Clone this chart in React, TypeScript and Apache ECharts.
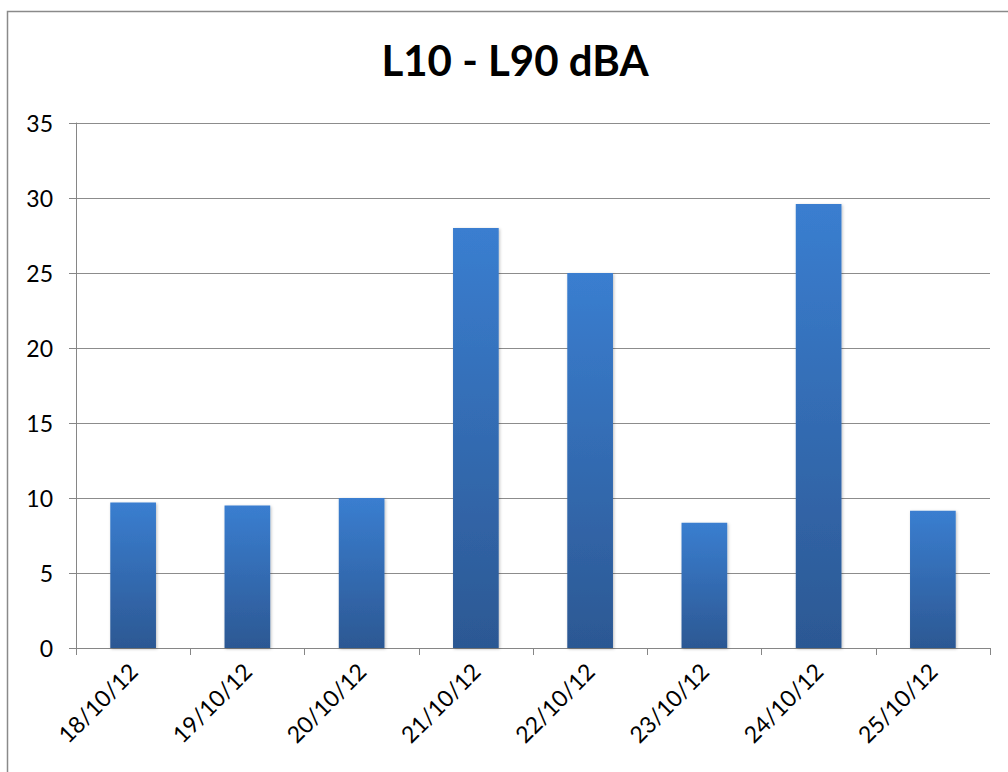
import React, { useEffect, useRef } from "react";
import * as echarts from "echarts";

const categories = ["18/10/12", "19/10/12", "20/10/12", "21/10/12", "22/10/12", "23/10/12", "24/10/12", "25/10/12"];
const values = [9.7, 9.5, 10.0, 28.0, 25.0, 8.35, 29.6, 9.15];
const titleText = "L10 - L90 dBA";

export default function App() {
  const ref = useRef<HTMLDivElement>(null);
  useEffect(() => {
    const chart = echarts.init(ref.current!, null, { renderer: "svg" });
    chart.setOption({
      animation: false,
      backgroundColor: "#ffffff",
      title: {
        text: titleText,
        left: 510,
        textAlign: "center",
        top: 34,
        textStyle: { fontFamily: "Lato", fontWeight: "bold", fontSize: 42, color: "#000" },
      },
      graphic: [
        {
          type: "rect",
          shape: { x: 7.5, y: 11.5, width: 1100, height: 900 },
          style: { fill: "none", stroke: "#8a8a8a", lineWidth: 1.5 },
          silent: true,
        },
      ],
      grid: { left: 76, right: 18, top: 123, bottom: 124 },
      xAxis: {
        type: "category",
        data: categories,
        axisLine: { lineStyle: { color: "#868686", width: 1 } },
        axisTick: { show: true, length: 7, alignWithLabel: false, lineStyle: { color: "#868686" } },
        axisLabel: { rotate: 45, fontFamily: "Lato", fontSize: 23, color: "#000", margin: 19, interval: 0 },
      },
      yAxis: {
        type: "value",
        min: 0,
        max: 35,
        interval: 5,
        axisLine: { show: true, lineStyle: { color: "#868686", width: 1 } },
        axisTick: { show: true, length: 7, lineStyle: { color: "#868686" } },
        axisLabel: { fontFamily: "Lato", fontSize: 23, color: "#000", margin: 23 },
        splitLine: { lineStyle: { color: "#8c8c8c", width: 1 } },
      },
      series: [
        {
          type: "bar",
          data: values,
          barWidth: "40%",
          itemStyle: {
            color: new echarts.graphic.LinearGradient(0, 0, 0, 1, [
              { offset: 0, color: "#3a7ed0" },
              { offset: 1, color: "#2c5893" },
            ]),
            shadowColor: "rgba(0,0,0,0.25)",
            shadowBlur: 3,
            shadowOffsetX: 1,
            shadowOffsetY: 1,
          },
        },
      ],
    });
    return () => chart.dispose();
  }, []);
  return <div ref={ref} style={{ position: "absolute", left: 0, top: 0, width: 1008, height: 772 }} />;
}
